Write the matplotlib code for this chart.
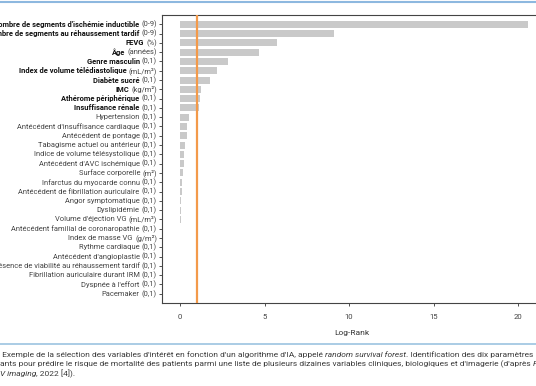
import matplotlib
matplotlib.use("Agg")
import matplotlib.pyplot as plt
from matplotlib.transforms import offset_copy, blended_transform_factory

# ---------------- data ----------------
names = [
    "Nombre de segments d'ischémie inductible",
    "Nombre de segments au réhaussement tardif",
    "FEVG",
    "Âge",
    "Genre masculin",
    "Index de volume télédiastolique",
    "Diabète sucré",
    "IMC",
    "Athérome périphérique",
    "Insuffisance rénale",
    "Hypertension",
    "Antécédent d'insuffisance cardiaque",
    "Antécédent de pontage",
    "Tabagisme actuel ou antérieur",
    "Indice de volume télésystolique",
    "Antécédent d'AVC ischémique",
    "Surface corporelle",
    "Infarctus du myocarde connu",
    "Antécédent de fibrillation auriculaire",
    "Angor symptomatique",
    "Dyslipidémie",
    "Volume d'éjection VG",
    "Antécédent familial de coronaropathie",
    "Index de masse VG",
    "Rythme cardiaque",
    "Antécédent d'angioplastie",
    "Présence de viabilité au réhaussement tardif",
    "Fibrillation auriculaire durant IRM",
    "Dyspnée à l'effort",
    "Pacemaker",
]
units = [
    "(0-9)", "(0-9)", "(%)", "(années)", "(0,1)", "(mL/m²)", "(0,1)", "(kg/m²)",
    "(0,1)", "(0,1)", "(0,1)", "(0,1)", "(0,1)", "(0,1)", "(0,1)", "(0,1)",
    "(m²)", "(0,1)", "(0,1)", "(0,1)", "(0,1)", "(mL/m²)", "(0,1)", "(g/m²)",
    "(0,1)", "(0,1)", "(0,1)", "(0,1)", "(0,1)", "(0,1)",
]
log_rank = [
    20.6, 9.1, 5.75, 4.7, 2.85, 2.2, 1.8, 1.25, 1.15, 1.1,
    0.55, 0.42, 0.40, 0.28, 0.26, 0.24, 0.20, 0.12, 0.10, 0.08,
    0.06, 0.03, 0.02, 0.02, 0.01, 0.01, 0.005, -0.01, -0.02, -0.02,
]
n_bold = 10
threshold = 1.0
xticks = [0, 5, 10, 15, 20]
caption_runs = [
    [(" Exemple de la sélection des variables d'intérêt en fonction d'un algorithme d'IA, appelé ", "normal"),
     ("random survival forest", "italic"),
     (". Identification des dix paramètres le", "normal")],
    [("ants pour prédire le risque de mortalité des patients parmi une liste de plusieurs dizaines variables cliniques, biologiques et d'imagerie (d'après ", "normal"),
     ("Pezel", "italic")],
    [("V imaging", "italic"), (", 2022 [4]).", "normal")],
]

# ---------------- figure ----------------
W, H = 536, 386
fig = plt.figure(figsize=(W / 100, H / 100), dpi=100)
FONT = ["Roboto", "DejaVu Sans"]
plt.rcParams["font.family"] = FONT

def px_axes(l, t, r, b):
    return [l / W, 1 - b / H, (r - l) / W, (b - t) / H]

ax = fig.add_axes(px_axes(162, 15, 541, 303))
y = list(range(len(names)))
ax.barh(y, log_rank, height=0.75, color="#c9c9c9", zorder=2)
ax.axvline(threshold, color="#f39a4a", lw=1.6, zorder=3)
ax.set_ylim(len(names), -1)
ax.set_xlim(-1.07, 21.36)
ax.set_yticks(y)
ax.set_yticklabels([""] * len(y))
ax.set_xticks(xticks)
ax.set_xticklabels([str(v) for v in xticks], fontsize=5.6, color="#444444")
ax.tick_params(axis="y", length=2.5, width=0.6, color="#333333", pad=1)
ax.tick_params(axis="x", length=2.5, width=0.6, color="#333333", pad=5.5)
for s in ax.spines.values():
    s.set_linewidth(0.8)
    s.set_color("#444444")
ax.set_xlabel("Log-Rank", fontsize=6, color="#333333", labelpad=7)

fig.canvas.draw()
renderer = fig.canvas.get_renderer()
trans = blended_transform_factory(ax.transAxes, ax.transData)

LFS = 5.45
for i, (nm, un) in enumerate(zip(names, units)):
    t_un = ax.text(0, i, un, transform=offset_copy(trans, fig, x=-5, y=0, units="dots"),
                   ha="right", va="center", fontsize=LFS, color="#444444")
    w = t_un.get_window_extent(renderer).width
    bold = i < n_bold
    ax.text(0, i, nm, transform=offset_copy(trans, fig, x=-5 - w - 2.2, y=0, units="dots"),
            ha="right", va="center", fontsize=LFS,
            fontweight="bold" if bold else "normal",
            color="#111111" if bold else "#444444")

# decorative rules
fig.add_artist(plt.Line2D([0, 1], [1 - 2 / H, 1 - 2 / H], color="#8db8df", lw=1.5))
fig.add_artist(plt.Line2D([0, 1], [1 - 344 / H, 1 - 344 / H], color="#9cc3e0", lw=1.2))

# caption
cap_y = [355, 364.5, 374]
for line, yy in zip(caption_runs, cap_y):
    x = 0.0
    for txt, style in line:
        t = fig.text(x / W, 1 - yy / H, txt, fontstyle=style, fontsize=6.0,
                     color="#3a3a3a", ha="left", va="center")
        x += t.get_window_extent(renderer).width

fig.savefig("out.png", dpi=100)
